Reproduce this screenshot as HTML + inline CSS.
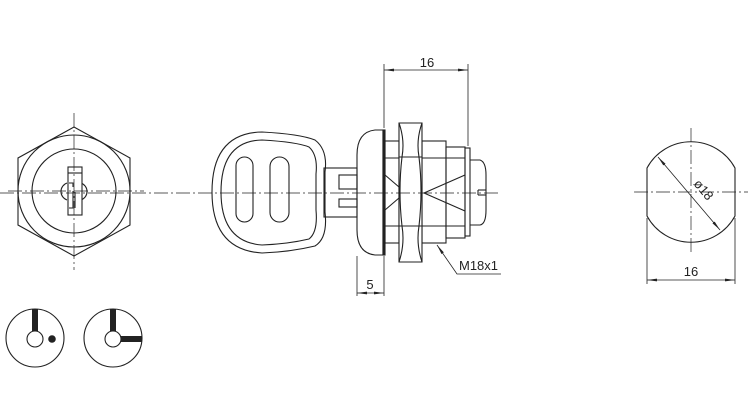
<!DOCTYPE html>
<html><head><meta charset="utf-8"><style>
html,body{margin:0;padding:0;background:#fff;}
svg{display:block;}
text{font-family:"Liberation Sans",Arial,sans-serif;fill:#222;}
</style></head><body>
<svg width="751" height="401" viewBox="0 0 751 401" xmlns="http://www.w3.org/2000/svg">
<defs>
<marker id="ar" viewBox="0 0 10 4" refX="10" refY="2" markerWidth="10" markerHeight="4" orient="auto-start-reverse" markerUnits="userSpaceOnUse"><path d="M0,0.6 L10,2 L0,3.4 Z" fill="#222"/></marker>
</defs>
<g fill="none" stroke="#222" stroke-width="1.1">
<!-- LEFT FRONT VIEW -->
<polygon points="74,127 130,158 130,225 74,256 18,225 18,158"/>
<circle cx="74" cy="191" r="56"/>
<circle cx="74" cy="191" r="42"/>
<path d="M67,200 A9,9 0 0 1 67,183 M81,183 A9,9 0 0 1 81,200"/>
<rect x="68" y="167" width="14" height="48" fill="#fff"/>
<line x1="68" y1="173" x2="82" y2="173"/>
<path d="M69,183 h4 v4 M73,191 v17 h-4 M75,192 v16"/>
<line x1="8" y1="191" x2="144" y2="191" stroke-dasharray="14,3,2,3" stroke-width="0.7"/>
<line x1="74" y1="113" x2="74" y2="270" stroke-dasharray="14,3,2,3" stroke-width="0.7"/>

<!-- bottom symbols -->
<circle cx="35" cy="338" r="29"/>
<circle cx="35" cy="339" r="8"/>
<rect x="32" y="309" width="6" height="22" fill="#222" stroke="none"/>
<circle cx="52" cy="339" r="3.8" fill="#222" stroke="none"/>
<circle cx="113" cy="338" r="29"/>
<circle cx="113" cy="339" r="8"/>
<rect x="110" y="309" width="6" height="22" fill="#222" stroke="none"/>
<rect x="121" y="336" width="21" height="6" fill="#222" stroke="none"/>

<!-- MIDDLE SIDE VIEW -->
<path d="M262,132 Q300,134 315,140 Q328,150 325,172 L325,212 Q328,238 315,246 Q290,252 262,253 Q212,250 212,192 Q212,133 262,132 Z"/>
<path d="M262,140 Q297,142 309,147 Q318,155 316,174 L316,210 Q318,232 309,239 Q288,244 262,245 Q221,242 221,192 Q221,141 262,140 Z"/>
<rect x="236" y="157" width="17" height="65" rx="8.5"/>
<rect x="270" y="157" width="19" height="65" rx="9.5"/>
<rect x="324" y="168" width="33" height="49"/>
<rect x="339" y="175" width="18" height="14"/>
<rect x="339" y="199" width="18" height="8"/>
<path d="M383,130 L375,130 Q357,132 357,155 L357,230 Q357,253 375,255 L383,255 Z"/>
<rect x="383" y="130" width="2" height="125" fill="#222"/>
<rect x="385" y="141" width="14" height="102"/>
<rect x="422" y="141" width="24" height="102"/>
<rect x="446" y="147" width="19" height="91"/>
<rect x="465" y="148" width="5" height="88"/>
<path d="M470,160 L480,160 Q486,162 486,175 L486,210 Q486,224 480,225 L470,225"/>
<line x1="478" y1="190" x2="486" y2="190"/><line x1="478" y1="195" x2="486" y2="195"/><line x1="478" y1="190" x2="478" y2="195"/>
<path d="M399,123 L422,123 L422,262 L399,262 Z" fill="#fff"/>
<path d="M399,157 L422,157 M399,226 L422,226 M399,123 Q405,140 402,157 M422,123 Q416,140 419,157 M402,157 Q398,191 402,226 M419,157 Q423,191 419,226 M402,226 Q405,244 399,262 M419,226 Q416,244 422,262"/>
<path d="M385,158 L399,158 M385,226 L399,226 M422,158 L465,158 M422,226 L465,226"/>
<path d="M385,175 L399,187 M385,210 L399,198 M465,175 L424,193 L465,211"/>
<line x1="0" y1="193" x2="498" y2="193" stroke-dasharray="14,3,2,3" stroke-width="0.7"/>
<!-- dims -->
<line x1="384" y1="64" x2="384" y2="128" stroke-width="0.8"/>
<line x1="468" y1="64" x2="468" y2="146" stroke-width="0.8"/>
<line x1="384" y1="70" x2="468" y2="70" stroke-width="0.8" marker-start="url(#ar)" marker-end="url(#ar)"/>
<line x1="357" y1="256" x2="357" y2="296" stroke-width="0.8"/>
<line x1="384" y1="256" x2="384" y2="296" stroke-width="0.8"/>
<line x1="357" y1="293" x2="384" y2="293" stroke-width="0.8" marker-start="url(#ar)" marker-end="url(#ar)"/>
<polyline points="437,245 457,274 501,274" stroke-width="0.8" marker-start="url(#ar)"/>

<!-- RIGHT VIEW -->
<path d="M647,168 A50,50 0 0 1 735,168 L735,216 A50,50 0 0 1 647,216 Z"/>
<line x1="634" y1="192" x2="748" y2="192" stroke-dasharray="14,3,2,3" stroke-width="0.7"/>
<line x1="691" y1="128" x2="691" y2="254" stroke-dasharray="14,3,2,3" stroke-width="0.7"/>
<line x1="658" y1="157" x2="720" y2="230" stroke-width="0.8" marker-start="url(#ar)" marker-end="url(#ar)"/>
<line x1="647" y1="218" x2="647" y2="284" stroke-width="0.8"/>
<line x1="735" y1="218" x2="735" y2="284" stroke-width="0.8"/>
<line x1="647" y1="280" x2="735" y2="280" stroke-width="0.8" marker-start="url(#ar)" marker-end="url(#ar)"/>
</g>
<text x="427" y="67" font-size="13" text-anchor="middle">16</text>
<text x="370" y="289" font-size="13" text-anchor="middle">5</text>
<text x="459" y="270" font-size="13">M18x1</text>
<text x="691" y="276" font-size="13" text-anchor="middle">16</text>
<text x="0" y="0" font-size="13" transform="translate(693,184) rotate(50)">ø18</text>
</svg>
</body></html>
